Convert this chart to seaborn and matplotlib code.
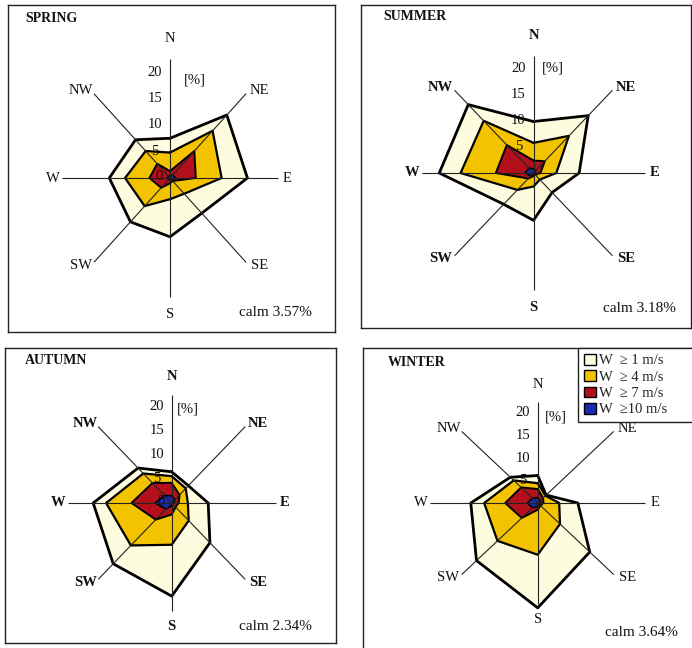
import numpy as np
import pandas as pd
import matplotlib
matplotlib.use("Agg")
import matplotlib.pyplot as plt
from matplotlib.patches import Patch
import seaborn as sns

# ---------------- data ----------------
directions = ["N", "NE", "E", "SE", "S", "SW", "W", "NW"]
speed_classes = ["W  \u2265 1 m/s", "W  \u2265 4 m/s", "W  \u2265 7 m/s", "W  \u226510 m/s"]
seasons = ["SPRING", "SUMMER", "AUTUMN", "WINTER"]
calm = [3.57, 3.18, 2.34, 3.64]
radial_ticks = [5, 10, 15, 20]

spring_w1 = [7.5, 16.8, 16.2, 9.4, 11.1, 11.7, 12.7, 10.2]
spring_w4 = [4.8, 12.6, 10.8, 4.2, 4.0, 7.5, 9.4, 7.2]
spring_w7 = [1.3, 7.2, 5.4, 0.8, 1.0, 2.6, 4.3, 3.8]
spring_w10 = [0.4, 0.8, 1.2, 0.4, 0.3, 0.4, 0.6, 0.4]

summer_w1 = [9.9, 15.6, 9.2, 5.3, 9.1, 8.5, 19.0, 18.6]
summer_w4 = [5.8, 10.1, 4.6, 1.8, 2.6, 4.6, 14.7, 14.2]
summer_w7 = [2.4, 3.2, 1.4, 0.5, 0.6, 1.5, 7.6, 7.6]
summer_w10 = [0.8, 0.6, 0.4, 0.3, 0.4, 0.8, 1.7, 1.3]

autumn_w1 = [6.5, 5.1, 7.9, 11.7, 19.4, 17.9, 17.0, 10.3]
autumn_w4 = [5.6, 4.3, 3.5, 5.2, 8.7, 12.5, 14.2, 8.7]
autumn_w7 = [4.2, 2.4, 1.5, 1.2, 2.4, 4.9, 8.7, 5.9]
autumn_w10 = [1.5, 1.0, 0.5, 0.3, 0.6, 1.8, 3.6, 2.2]

winter_w1 = [6.1, 2.5, 8.4, 15.4, 23.3, 18.1, 14.0, 8.1]
winter_w4 = [4.4, 2.3, 4.5, 6.6, 11.5, 11.9, 11.2, 7.1]
winter_w7 = [3.1, 1.6, 1.2, 0.8, 1.5, 4.7, 6.8, 4.9]
winter_w10 = [1.2, 0.8, 0.6, 0.5, 0.8, 1.5, 2.2, 1.5]

season_layers = {
    "SPRING": [spring_w1, spring_w4, spring_w7, spring_w10],
    "SUMMER": [summer_w1, summer_w4, summer_w7, summer_w10],
    "AUTUMN": [autumn_w1, autumn_w4, autumn_w7, autumn_w10],
    "WINTER": [winter_w1, winter_w4, winter_w7, winter_w10],
}

# ---------------- style ----------------
sns.set_theme(style="white")
plt.rcParams["font.family"] = ["Liberation Serif", "DejaVu Serif"]

layer_colors = ["#FEFCDF", "#F4C300", "#B3101C", "#1C2BB5"]
edge_widths = [2.0, 1.6, 1.4, 1.2]

W_PX, H_PX = 692, 648
fig = plt.figure(figsize=(W_PX / 100, H_PX / 100), dpi=100)
fig.patch.set_facecolor("white")

# layout per panel (pixels): box, centre, horizontal / vertical px per %
panels = {
    "SPRING": dict(box=(8, 5, 335, 332), c=(170, 178), hs=4.78, vs=5.3, bold=False,
                   title=(25, 18), calm=(312, 312), pct=(195, 80), zero=True),
    "SUMMER": dict(box=(361, 5, 691, 328), c=(533.5, 173), hs=4.96, vs=5.2, bold=True,
                   title=(383, 17), calm=(676, 308), pct=(553, 68), zero=False),
    "AUTUMN": dict(box=(5, 348, 336, 643), c=(171.7, 503), hs=4.62, vs=4.8, bold=True,
                   title=(25, 360), calm=(312, 627), pct=(188, 409), zero=True),
    "WINTER": dict(box=(363, 348, 705, 665), c=(537.7, 503), hs=4.78, vs=4.5, bold=False,
                   title=(388, 362), calm=(678, 632), pct=(556, 417), zero=False),
}

theta = np.deg2rad(np.arange(8) * 45.0)
label_pos = [(0, 26.4), (18.7, 16.5), (24.5, 0), (18.7, -16.5),
             (0, -25.8), (-18.7, -16.5), (-24.5, 0), (-18.7, 16.5)]
AXIS_LEN = 22.5

for season, cval in zip(seasons, calm):
    p = panels[season]
    x0, y0, x1, y1 = p["box"]
    cx, cy = p["c"]
    hs, vs = p["hs"], p["vs"]
    ax = fig.add_axes([x0 / W_PX, 1 - y1 / H_PX, (x1 - x0) / W_PX, (y1 - y0) / H_PX])

    def px(xp, yp):
        return (xp - cx) / hs, (cy - yp) / vs

    for k, (vals, col) in enumerate(zip(season_layers[season], layer_colors)):
        r = np.array(vals)
        xs = r * np.sin(theta)
        ys = r * np.cos(theta)
        ax.fill(xs, ys, facecolor=col, edgecolor="none", zorder=1 + 2 * k)
        df = pd.DataFrame({"x": np.append(xs, xs[0]), "y": np.append(ys, ys[0])})
        sns.lineplot(data=df, x="x", y="y", sort=False, estimator=None, color="black",
                     lw=edge_widths[k], ax=ax, zorder=2 + 2 * k, legend=False)

    # direction axes
    for t in theta:
        ax.plot([0, AXIS_LEN * np.sin(t)], [0, AXIS_LEN * np.cos(t)], color="#222222",
                lw=0.8, zorder=10, solid_capstyle="butt")

    weight = "bold" if p["bold"] else "normal"
    for d, (lx, ly) in zip(directions, label_pos):
        ax.text(lx, ly, d, ha="center", va="center", fontsize=10.5, fontweight=weight,
                color="#111111", zorder=12)

    tick_x = -15 / hs
    for tv in radial_ticks:
        ax.text(tick_x, tv, str(tv), ha="center", va="center", fontsize=10.5,
                color="#111111", zorder=12)
    if p["zero"]:
        ax.text(-11 / hs, 0.3, "0", ha="center", va="center", fontsize=10.5,
                color="#111111", zorder=12)

    tx, ty = px(*p["pct"])
    ax.text(tx, ty, "[%]", ha="center", va="center", fontsize=10.5, color="#111111", zorder=12)

    tx, ty = px(*p["title"])
    ax.text(tx, ty, season, ha="left", va="center", fontsize=10, fontweight="bold",
            color="#111111", zorder=12)

    tx, ty = px(*p["calm"])
    ax.text(tx, ty, f"calm {cval:.2f}%", ha="right", va="center", fontsize=11,
            color="#111111", zorder=12)

    ax.set_xlim((x0 - cx) / hs, (x1 - cx) / hs)
    ax.set_ylim((cy - y1) / vs, (cy - y0) / vs)
    ax.set_xticks([])
    ax.set_yticks([])
    ax.set_xlabel("")
    ax.set_ylabel("")
    ax.set_facecolor("white")
    for s in ax.spines.values():
        s.set_visible(True)
        s.set_color("#222222")
        s.set_linewidth(1.0)

handles = [Patch(facecolor=c, edgecolor="black", lw=1.0) for c in layer_colors]
leg_left = 578 / W_PX
fig.legend(handles=handles, labels=speed_classes, loc="upper left",
           bbox_to_anchor=(leg_left, 1 - 421 / H_PX, 1.02 - leg_left, 73 / H_PX),
           mode="expand", frameon=True, fancybox=False,
           edgecolor="#222222", framealpha=1, borderaxespad=0, fontsize=10.5,
           handlelength=0.8, handleheight=0.75, handletextpad=0.25, labelspacing=0.2,
           borderpad=0.4)

fig.savefig("out.png", dpi=100, facecolor="white")
